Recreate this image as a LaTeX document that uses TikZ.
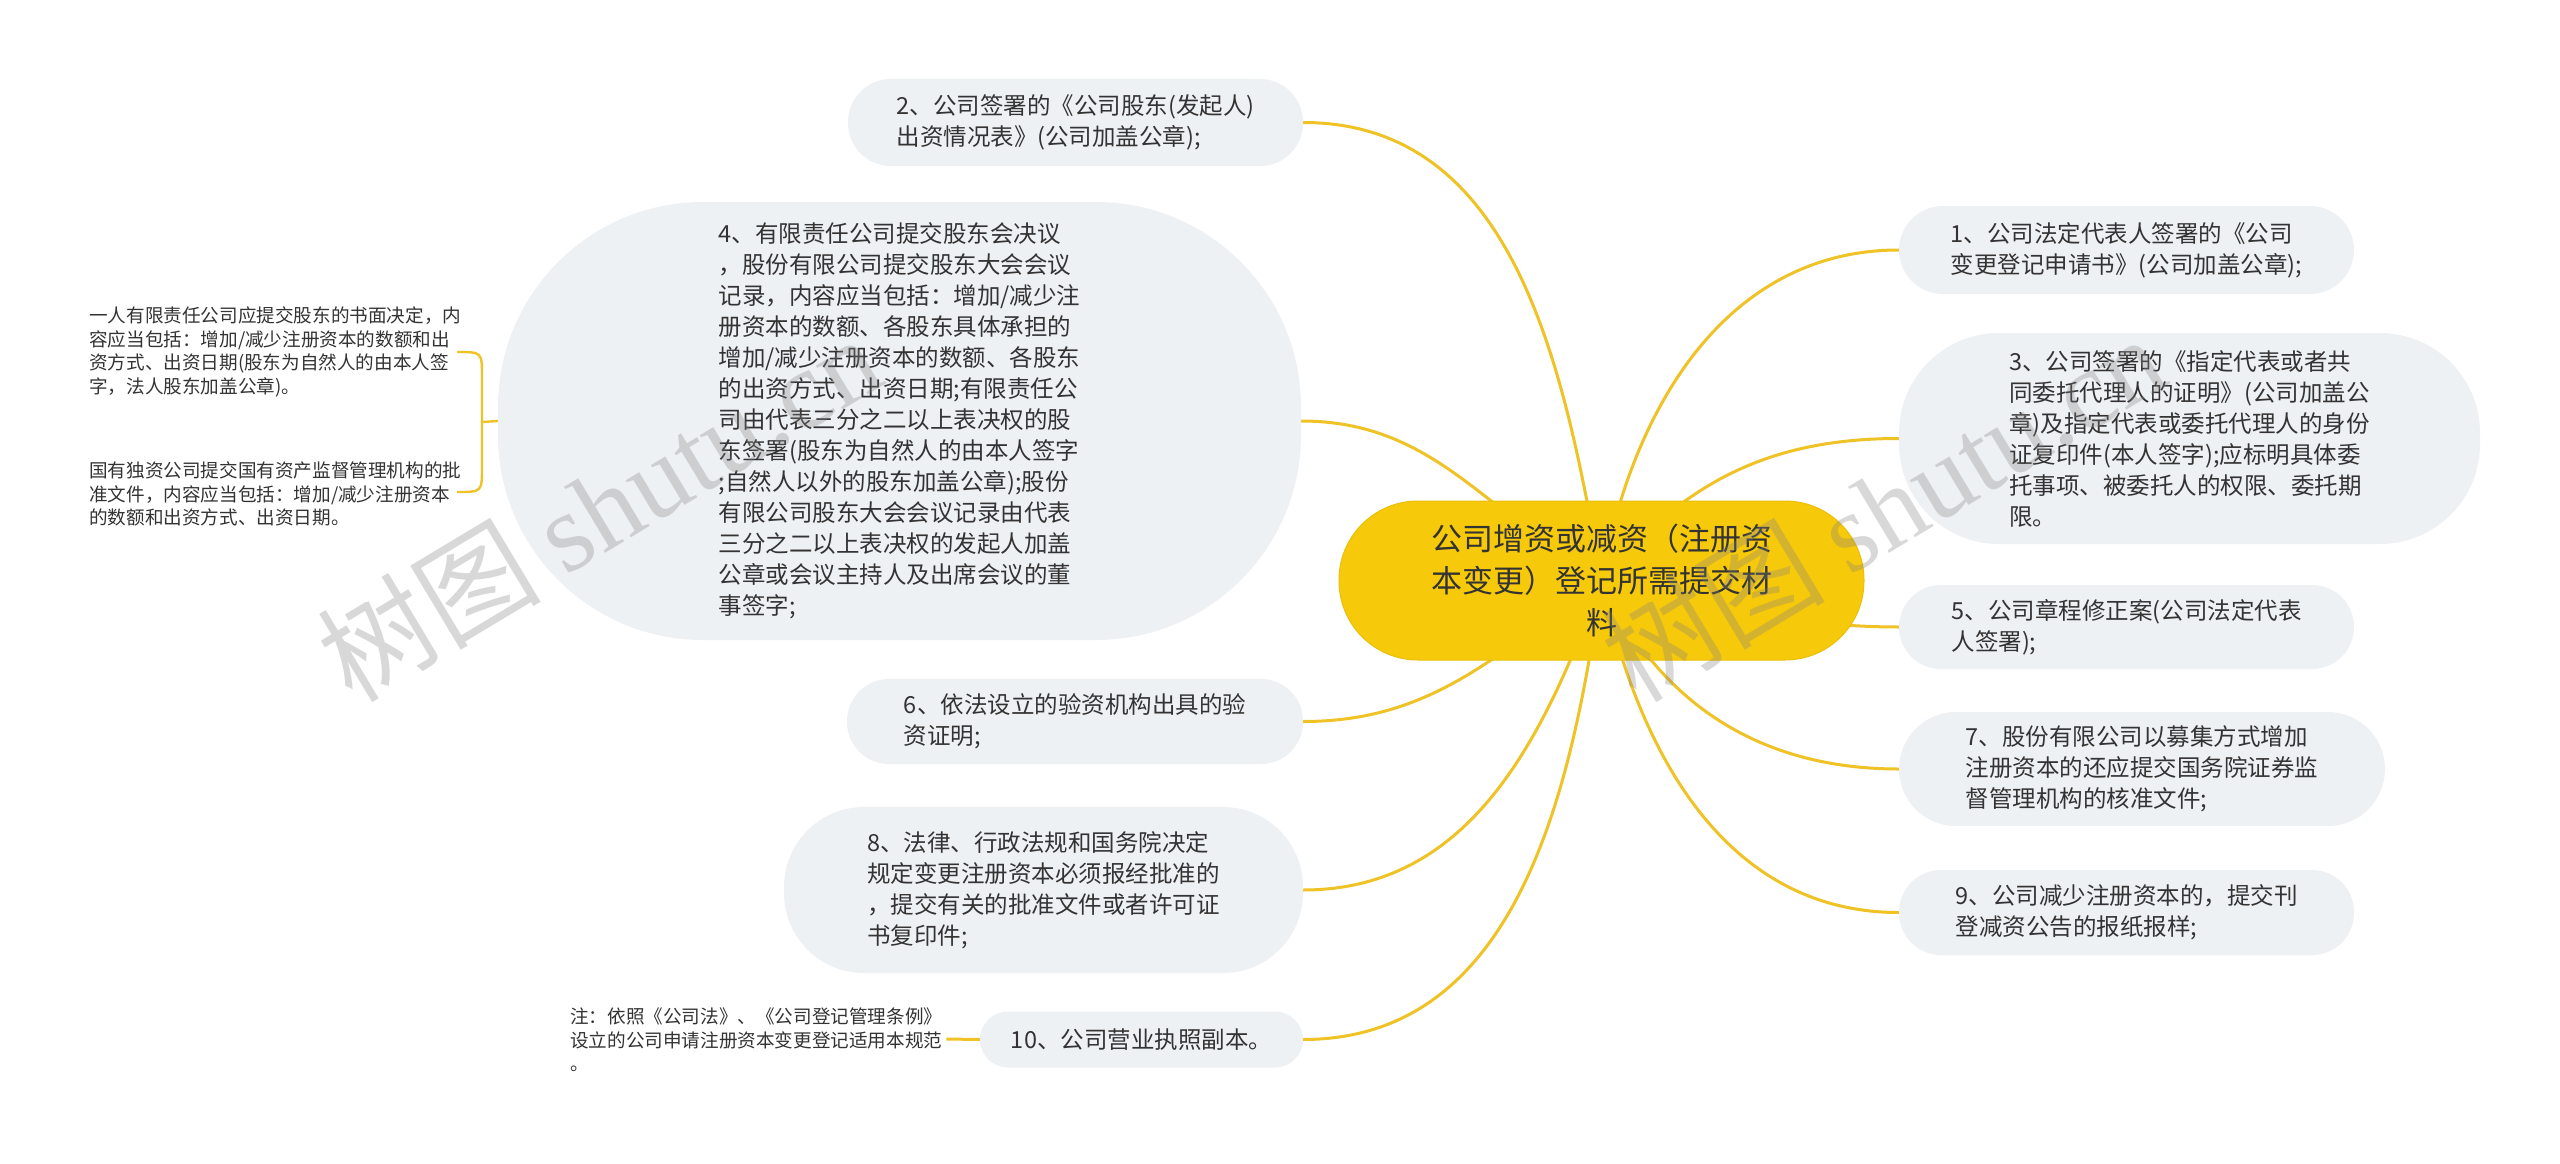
\documentclass[tikz,border=0pt]{standalone}
\usepackage{fontspec}
\setmainfont{Noto Sans CJK SC}
\newfontfamily\wmserif{Liberation Serif}
\usetikzlibrary{backgrounds}
\definecolor{conn}{HTML}{EFC226}
\definecolor{rootfill}{HTML}{F6C90B}
\definecolor{childfill}{HTML}{EEF1F4}
\definecolor{txt}{HTML}{333333}
\begin{document}
\begin{tikzpicture}[x=1pt,y=-1pt,
  child/.style={fill=childfill, text=txt, align=left, inner sep=0pt, font=\fontsize{23.5}{31}\selectfont},
  rootbox/.style={fill=rootfill, draw=rootfill!95!black, line width=1pt, text=txt, align=center, inner sep=0pt, font=\fontsize{31}{42}\selectfont},
  leaf/.style={text=txt, align=left, inner sep=0pt, font=\fontsize{18.6}{23.5}\selectfont},
  link/.style={draw=conn, line width=3pt},
  wmark/.style={text=gray, opacity=.3, inner sep=0pt, font=\fontsize{112}{112}\selectfont},
]
\useasboundingbox (0,0) rectangle (2560,1164);

% root
\node[rootbox, minimum width=525pt, minimum height=159pt, rounded corners=79pt] (root) at (1601.5,580.5)
  {公司增资或减资（注册资\\本变更）登记所需提交材\\料};

% left children
\node[child, minimum width=455pt, minimum height=87pt, rounded corners=43pt] (n2) at (1075.5,122.5)
  {2、公司签署的《公司股东(发起人)\\出资情况表》(公司加盖公章);};
\node[child, minimum width=803pt, minimum height=438pt, rounded corners=205pt] (n4) at (899.5,421)
  {4、有限责任公司提交股东会决议\\
   ，股份有限公司提交股东大会会议\\
   记录，内容应当包括：增加/减少注\\
   册资本的数额、各股东具体承担的\\
   增加/减少注册资本的数额、各股东\\
   的出资方式、出资日期;有限责任公\\
   司由代表三分之二以上表决权的股\\
   东签署(股东为自然人的由本人签字\\
   ;自然人以外的股东加盖公章);股份\\
   有限公司股东大会会议记录由代表\\
   三分之二以上表决权的发起人加盖\\
   公章或会议主持人及出席会议的董\\
   事签字;};
\node[child, minimum width=456pt, minimum height=85pt, rounded corners=42pt] (n6) at (1075,721.5)
  {6、依法设立的验资机构出具的验\\资证明;};
\node[child, minimum width=519pt, minimum height=166pt, rounded corners=80pt] (n8) at (1043.5,890)
  {8、法律、行政法规和国务院决定\\规定变更注册资本必须报经批准的\\，提交有关的批准文件或者许可证\\书复印件;};
\node[child, minimum width=323pt, minimum height=56pt, rounded corners=28pt] (n10) at (1141.5,1039.5)
  {10、公司营业执照副本。};

% right children
\node[child, minimum width=455pt, minimum height=88pt, rounded corners=44pt] (n1) at (2126.5,250)
  {1、公司法定代表人签署的《公司\\变更登记申请书》(公司加盖公章);};
\node[child, minimum width=581pt, minimum height=211pt, rounded corners=100pt] (n3) at (2189.5,438.5)
  {3、公司签署的《指定代表或者共\\同委托代理人的证明》(公司加盖公\\章)及指定代表或委托代理人的身份\\证复印件(本人签字);应标明具体委\\托事项、被委托人的权限、委托期\\限。};
\node[child, minimum width=455pt, minimum height=84pt, rounded corners=42pt] (n5) at (2126.5,627)
  {5、公司章程修正案(公司法定代表\\人签署);};
\node[child, minimum width=486pt, minimum height=114pt, rounded corners=57pt] (n7) at (2142,769)
  {7、股份有限公司以募集方式增加\\注册资本的还应提交国务院证券监\\督管理机构的核准文件;};
\node[child, minimum width=455pt, minimum height=85pt, rounded corners=42pt] (n9) at (2126.5,912.5)
  {9、公司减少注册资本的，提交刊\\登减资公告的报纸报样;};

% leaves of n4
\node[leaf, anchor=west] (l1) at (89,352)
  {一人有限责任公司应提交股东的书面决定，内\\容应当包括：增加/减少注册资本的数额和出\\资方式、出资日期(股东为自然人的由本人签\\字，法人股东加盖公章)。};
\node[leaf, anchor=west] (l2) at (89,494)
  {国有独资公司提交国有资产监督管理机构的批\\准文件，内容应当包括：增加/减少注册资本\\的数额和出资方式、出资日期。};
% note of n10
\node[leaf, anchor=west] (note) at (570,1040)
  {注：依照《公司法》、《公司登记管理条例》\\设立的公司申请注册资本变更登记适用本规范\\。};

\coordinate (bt) at (457,352);
\coordinate (bb) at (457,492);
\coordinate (bm) at (482,422);

\begin{scope}[on background layer]
  \fill[white] (0,0) rectangle (2560,1164);
  \draw[link] (root.center) to[out=100,in=0] (n2.east);
  \draw[link] (root.center) to[out=150,in=0] (n4.east);
  \draw[link] (root.center) to[out=215,in=0] (n6.east);
  \draw[link] (root.center) to[out=250,in=0] (n8.east);
  \draw[link] (root.center) to[out=262,in=0] (n10.east);
  \draw[link] (root.center) to[out=80,in=180] (n1.west);
  \draw[link] (root.center) to[out=50,in=180] (n3.west);
  \draw[link] (root.center) to[out=-10,in=180] (n5.west);
  \draw[link] (root.center) to[out=-65,in=180] (n7.west);
  \draw[link] (root.center) to[out=-78,in=180] (n9.west);
\end{scope}

\draw[link, line width=2.4pt] (bt) .. controls (482,352) .. (482,377) -- (482,467) .. controls (482,492) .. (bb);
\draw[link, line width=2.4pt] (bm) -- (n4.west);
\draw[link] (note.east) ++(4,-1) -- (n10.west);

% watermarks
\node[wmark, rotate=31, anchor=base west] (wm1) at (352,705) {树图 {\wmserif shutu.cn}};
\node[wmark, rotate=31, anchor=base west] (wm2) at (1636,705) {树图 {\wmserif shutu.cn}};
\end{tikzpicture}
\end{document}
